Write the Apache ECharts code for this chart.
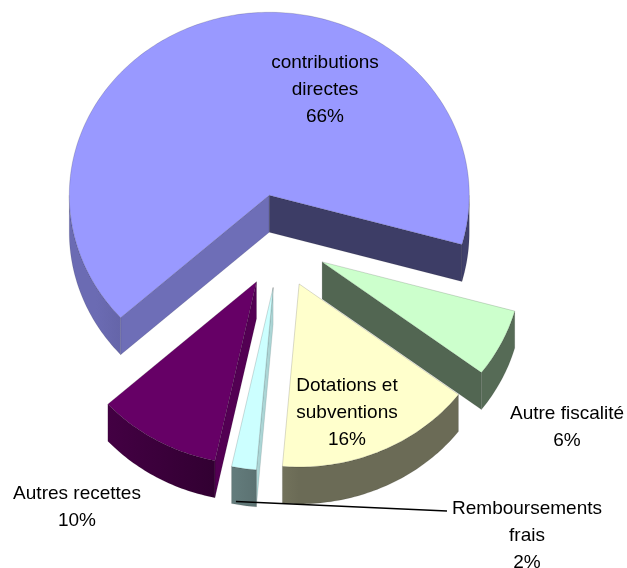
<!DOCTYPE html>
<html>
<head>
<meta charset="utf-8">
<script src="https://cdn.jsdelivr.net/npm/echarts/dist/echarts.min.js"></script>
<style>
  html, body { margin: 0; padding: 0; background: #fff; }
  #chart { width: 627px; height: 568px; }
</style>
</head>
<body>
<div id="chart"></div>
<script>
// slices, clockwise from the big one
const categories = ['contributions directes', 'Autre fiscalité', 'Dotations et subventions', 'Remboursements frais', 'Autres recettes']
const labelNames = ['contributions\ndirectes', 'Autre fiscalité', 'Dotations et\nsubventions', 'Remboursements\nfrais', 'Autres recettes']
const values = [66, 6, 16, 2, 10]

// look
const topColors = ['#9999FF', '#CCFFCC', '#FFFFCC', '#CCFFFF', '#660066']
const labelOffsets = [[45, -151], [287, 186], [67, 172], [247, 295], [-203, 266]]
const leaderLines = [false, false, false, true, false]
const firstAngle = 138
const pie = { cx: 280, cy: 241, rx: 200, ry: 183, depth: 37, explode: 47 }

const total = values.reduce((s, v) => s + v, 0)
const rad = d => d * Math.PI / 180

function shade(hex, f) {
  const n = parseInt(hex.slice(1), 16)
  const c = [(n >> 16) & 255, (n >> 8) & 255, n & 255].map(x => Math.round(x * f))
  return 'rgb(' + c.join(',') + ')'
}

function renderItem(params, api) {
  const i = params.dataIndex
  const v = api.value(0)
  let before = 0
  for (let k = 0; k < i; k++) before += values[k]
  const a = firstAngle + before / total * 360
  const b = a + v / total * 360
  const m = (a + b) / 2
  const ax = pie.cx + pie.explode * Math.cos(rad(m))
  const ay = pie.cy + pie.explode * Math.sin(rad(m))
  const rim = (t, dy) => [ax + pie.rx * Math.cos(rad(t)), ay + pie.ry * Math.sin(rad(t)) + dy]
  const arc = (s, e, dy) => {
    const n = Math.max(2, Math.ceil(Math.abs(e - s)))
    const pts = []
    for (let j = 0; j <= n; j++) pts.push(rim(s + (e - s) * j / n, dy))
    return pts
  }
  const color = topColors[i]
  const children = []

  // radial side walls
  const radialWall = (t, normal) => {
    const nn = ((normal % 360) + 360) % 360
    const f = nn < 90 ? 0.85 - 0.25 * nn / 90 : 0.4
    const p = rim(t, 0)
    children.push({
      type: 'polygon',
      shape: { points: [[ax, ay], p, [p[0], p[1] + pie.depth], [ax, ay + pie.depth]] },
      style: { fill: shade(color, f), stroke: 'rgba(0,0,0,0.2)', lineWidth: 0.5 }
    })
  }
  if (Math.cos(rad(a)) < 0) radialWall(a, a - 90)
  if (Math.cos(rad(b)) > 0) radialWall(b, b + 90)

  // outer wall, front half only
  const grad = new echarts.graphic.LinearGradient(ax + pie.rx, 0, ax - pie.rx, 0, [
    { offset: 0, color: shade(color, 0.42) },
    { offset: 0.5, color: shade(color, 0.42) },
    { offset: 0.933, color: shade(color, 0.7) },
    { offset: 1, color: shade(color, 0.7) }
  ], true)
  for (let k = -1; k <= 2; k++) {
    const s = Math.max(a, 360 * k)
    const e = Math.min(b, 360 * k + 180)
    if (s < e) {
      children.push({
        type: 'polygon',
        shape: { points: arc(s, e, 0).concat(arc(e, s, pie.depth)) },
        style: { fill: grad, stroke: 'rgba(0,0,0,0.2)', lineWidth: 0.5 }
      })
    }
  }

  // top face
  children.push({
    type: 'polygon',
    shape: { points: [[ax, ay]].concat(arc(a, b, 0)) },
    style: { fill: color, stroke: 'rgba(0,0,0,0.25)', lineWidth: 0.6 }
  })

  // label
  const lx = pie.cx + labelOffsets[i][0]
  const ly = pie.cy + labelOffsets[i][1]
  if (leaderLines[i]) {
    const p = rim(m, pie.depth - 4)
    children.push({
      type: 'line',
      shape: { x1: p[0] - 8, y1: p[1], x2: lx - 80, y2: ly - 25 },
      style: { stroke: '#000', lineWidth: 1.6 }
    })
  }
  children.push({
    type: 'text',
    style: {
      text: labelNames[i] + '\n' + Math.round(v / total * 100) + '%',
      x: lx,
      y: ly,
      align: 'center',
      verticalAlign: 'middle',
      font: '19px "Liberation Sans", Arial, sans-serif',
      lineHeight: 27,
      fill: '#000'
    }
  })

  return { type: 'group', children: children }
}

const chart = echarts.init(document.getElementById('chart'))
chart.setOption({
  animation: false,
  backgroundColor: '#fff',
  series: [{
    type: 'custom',
    coordinateSystem: 'none',
    silent: true,
    renderItem: renderItem,
    data: values.map((v, i) => ({ name: categories[i], value: [v] }))
  }]
})
</script>
</body>
</html>
